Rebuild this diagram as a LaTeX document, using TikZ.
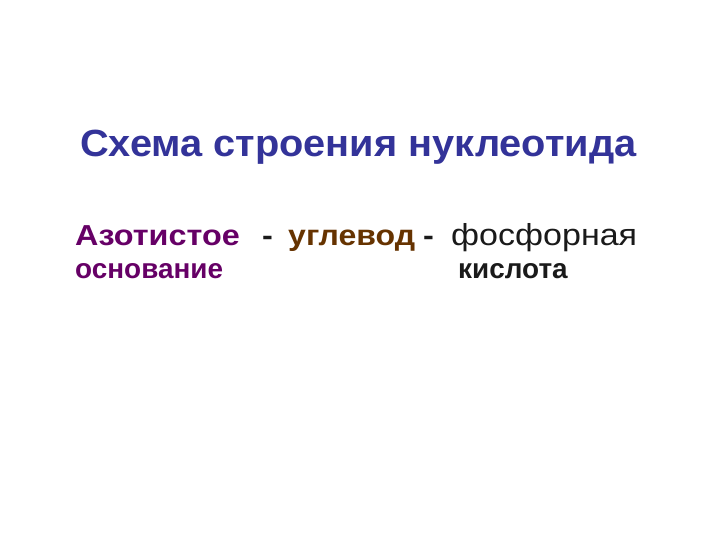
\documentclass[tikz,border=0pt]{standalone}
\usepackage{fontspec}
\setmainfont{Liberation Sans}
\definecolor{titleblue}{HTML}{333399}
\definecolor{purp}{HTML}{660066}
\definecolor{brn}{HTML}{663300}
\definecolor{blk}{HTML}{1A1A1A}
\begin{document}
\begin{tikzpicture}[x=1bp,y=-1bp,
  txt/.style={inner sep=0pt,anchor=base west,transform shape},
  ttl/.style={txt,xscale=1.05,font=\fontsize{38}{44}\selectfont\bfseries,text=titleblue},
  big/.style={txt,xscale=1.12,font=\fontsize{29}{36}\selectfont\bfseries},
  small/.style={txt,font=\fontsize{28}{32}\selectfont\bfseries}]
\useasboundingbox[fill=white] (0,0) rectangle (720,540);
\node[ttl] (title) at (80,157) {Схема строения нуклеотида};
\node[big,text=purp] (az) at (75,246) {Азотистое};
\node[big,text=blk] (d1) at (262,246) {-};
\node[big,xscale=0.99,text=brn] (ug) at (288,246) {углевод};
\node[big,text=blk] (d2) at (423,246) {-};
\node[big,font=\fontsize{30.5}{36}\selectfont,text=blk] (ph) at (451,246) {фосфорная};
\node[small,text=purp] (os) at (75,279) {основание};
\node[small,text=blk] (ki) at (458,279) {кислота};
\end{tikzpicture}
\end{document}
